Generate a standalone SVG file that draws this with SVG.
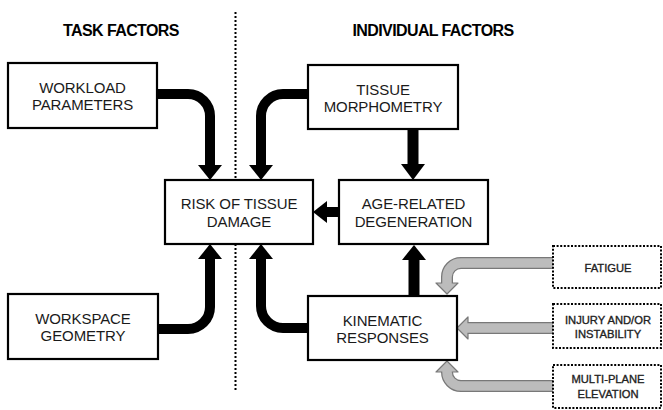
<svg xmlns="http://www.w3.org/2000/svg" width="663" height="410" viewBox="0 0 663 410">
<style>
.box{fill:#fff;stroke:#000;stroke-width:2.2}
.dbox{fill:#fff;stroke:#000;stroke-width:2;stroke-dasharray:2 1.6}
.t{font-family:"Liberation Sans",Arial,sans-serif;font-size:15px;text-anchor:middle;fill:#1a1a1a;letter-spacing:-0.1px}
.h{font-family:"Liberation Sans",Arial,sans-serif;font-size:16px;font-weight:bold;text-anchor:middle;fill:#000;letter-spacing:-0.6px}
.s{font-family:"Liberation Sans",Arial,sans-serif;font-size:11.2px;text-anchor:middle;fill:#222;stroke:#222;stroke-width:0.35}
.blk{fill:none;stroke:#000;stroke-width:10}
.head{fill:#000}
.go{fill:none;stroke:#787878;stroke-width:12}
.gi{fill:none;stroke:#bcbcbc;stroke-width:9.5}
.gh{fill:#bcbcbc;stroke:#787878;stroke-width:1.2;stroke-linejoin:round}
</style>
<rect width="663" height="410" fill="#fff"/>
<text class="h" x="121" y="36">TASK FACTORS</text>
<text class="h" x="433" y="36">INDIVIDUAL FACTORS</text>
<line x1="235.5" y1="12" x2="235.5" y2="392" stroke="#000" stroke-width="2" stroke-dasharray="2 2"/>
<g id="connectors">
<path class="blk" d="M157,94 H188 A22,22 0 0 1 210,116 V166"/>
<polygon class="head" points="198,165 222,165 210,180"/>
<path class="blk" d="M308,94 H283 A22,22 0 0 0 261,116 V166"/>
<polygon class="head" points="249,165 273,165 261,180"/>
<path class="blk" d="M158,329 H188 A22,22 0 0 0 210,307 V258"/>
<polygon class="head" points="198,259 222,259 210,244"/>
<path class="blk" d="M308,328 H283 A22,22 0 0 1 261,306 V258"/>
<polygon class="head" points="249,259 273,259 261,244"/>
<line class="blk" x1="413" y1="129" x2="413" y2="165" style="stroke-width:11"/>
<polygon class="head" points="401,164 425,164 413,180"/>
<line class="blk" x1="414" y1="296" x2="414" y2="259" style="stroke-width:11"/>
<polygon class="head" points="402,260 426,260 414,245"/>
<line class="blk" x1="339" y1="212" x2="326" y2="212"/>
<polygon class="head" points="327,201 327,223 313,212"/>
<path class="go" d="M553,263 H461 A14,14 0 0 0 447,277 V283"/>
<polygon class="gh" points="436,283 458,283 447,294"/>
<path class="gi" d="M553,263 H461 A14,14 0 0 0 447,277 V284"/>
<path class="go" d="M553,328 H468"/>
<polygon class="gh" points="468,317 468,339 457,328"/>
<path class="gi" d="M553,328 H467"/>
<path class="go" d="M553,386 H461 A14,14 0 0 1 447,372"/>
<polygon class="gh" points="436,372 458,372 447,361"/>
<path class="gi" d="M553,386 H461 A14,14 0 0 1 447,372 V371"/>
</g>
<g id="workload"><rect class="box" x="8" y="63" width="149" height="65"/><text class="t" x="82.5" y="93">WORKLOAD</text><text class="t" x="82.5" y="110">PARAMETERS</text></g>
<g id="tissue"><rect class="box" x="308" y="65" width="150" height="64"/><text class="t" x="383" y="94.5">TISSUE</text><text class="t" x="383" y="112">MORPHOMETRY</text></g>
<g id="risk"><rect class="box" x="165" y="180" width="148" height="64"/><text class="t" x="239" y="209">RISK OF TISSUE</text><text class="t" x="239" y="227">DAMAGE</text></g>
<g id="age"><rect class="box" x="339" y="180" width="149" height="64"/><text class="t" x="413.5" y="209">AGE-RELATED</text><text class="t" x="413.5" y="227">DEGENERATION</text></g>
<g id="workspace"><rect class="box" x="8" y="294" width="150" height="65"/><text class="t" x="83" y="324">WORKSPACE</text><text class="t" x="83" y="341">GEOMETRY</text></g>
<g id="kinematic"><rect class="box" x="308" y="296" width="149" height="64"/><text class="t" x="382.5" y="325.5">KINEMATIC</text><text class="t" x="382.5" y="343">RESPONSES</text></g>
<g id="fatigue"><rect class="dbox" x="553" y="246" width="108" height="42"/><text class="s" x="608" y="272">FATIGUE</text></g>
<g id="injury"><rect class="dbox" x="553" y="304" width="108" height="44"/><text class="s" x="608" y="324">INJURY AND/OR</text><text class="s" x="608" y="338">INSTABILITY</text></g>
<g id="multiplane"><rect class="dbox" x="553" y="365" width="108" height="43"/><text class="s" x="608" y="383">MULTI-PLANE</text><text class="s" x="608" y="398">ELEVATION</text></g>
</svg>
